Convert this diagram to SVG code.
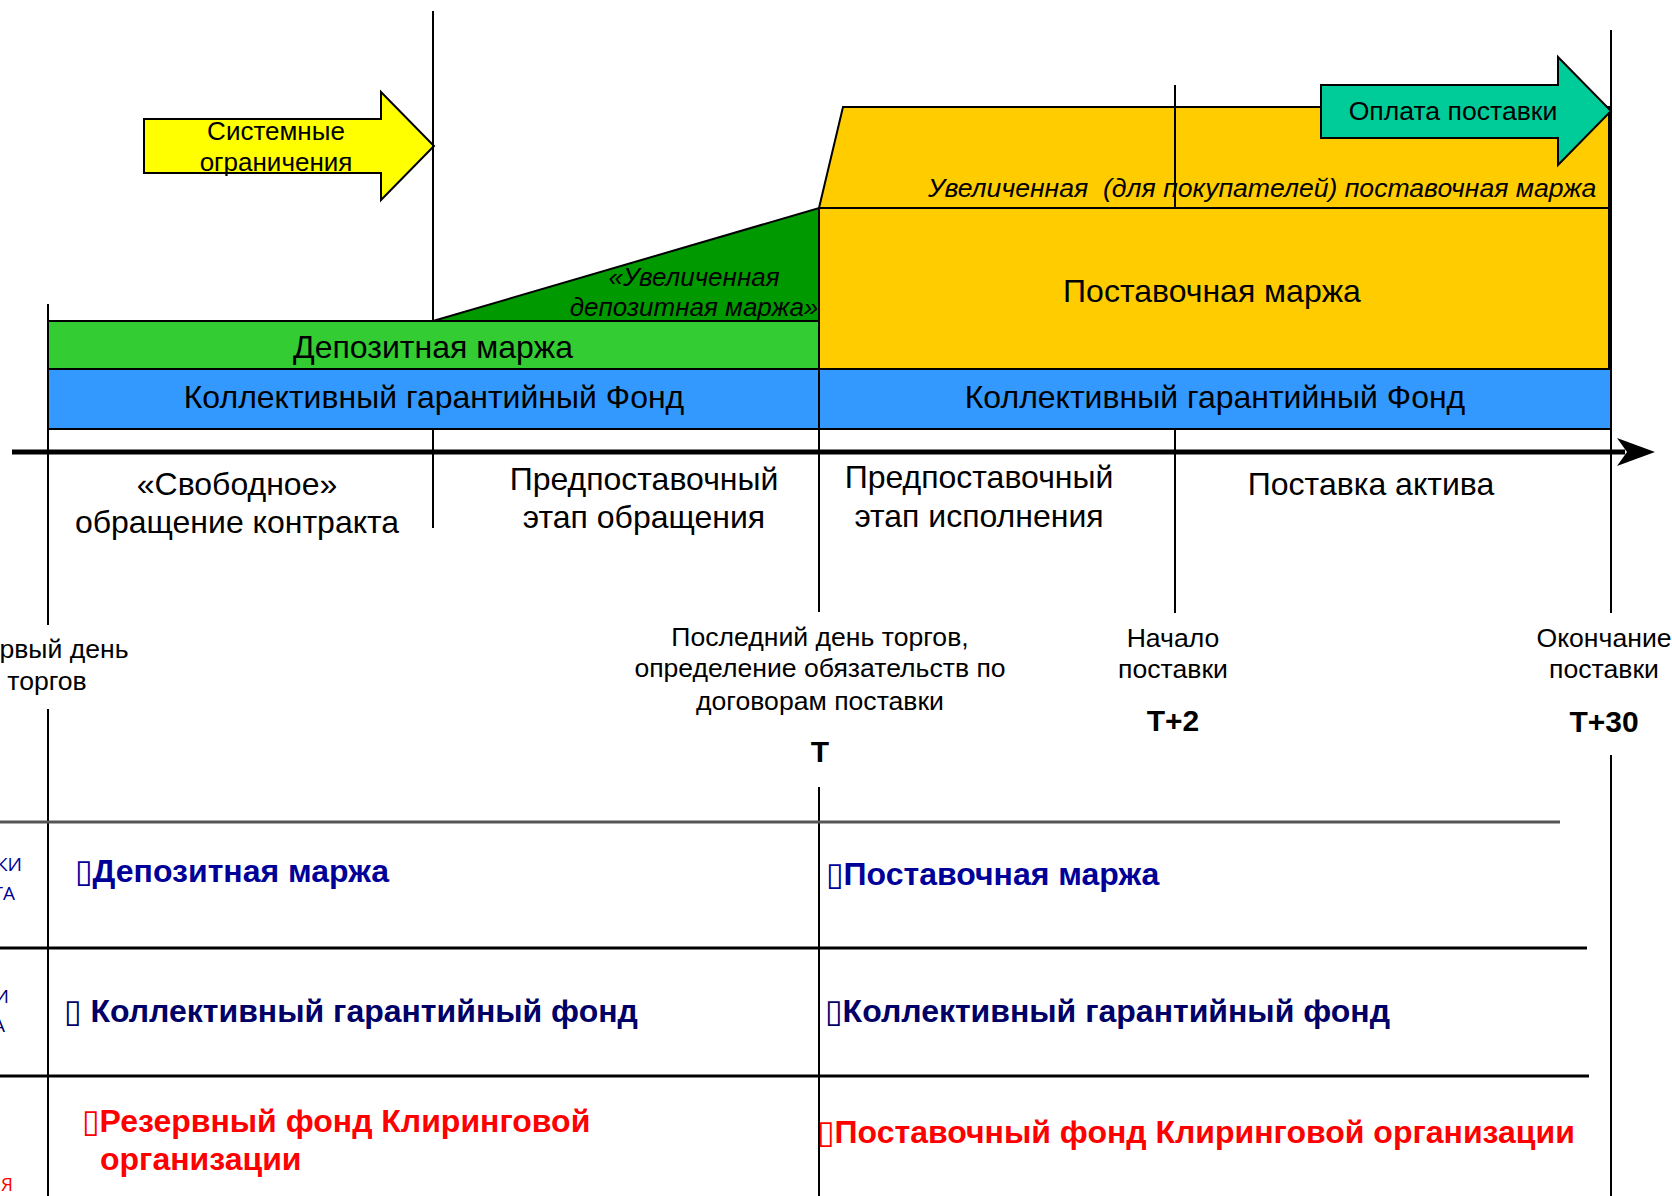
<svg xmlns="http://www.w3.org/2000/svg" width="1672" height="1196" viewBox="0 0 1672 1196">
<defs>
<style>
text{font-family:"Liberation Sans",Arial,sans-serif;fill:#000}
.big{font-size:32px;text-anchor:middle}
.ph{font-size:32px;text-anchor:middle}
.it{font-size:26.6px;font-style:italic}
.itm{font-size:26px;font-style:italic;text-anchor:middle}
.lbl{font-size:26px;text-anchor:middle}
.lbs{font-size:26.6px;text-anchor:middle}
.tk{font-size:30px;font-weight:bold;text-anchor:middle}
.tb{font-size:32px;font-weight:bold}
.blue{fill:#000099}
.navy{fill:#000066}
.red{fill:#FF0000}
.box{font-family:"DejaVu Sans",sans-serif;font-weight:normal}
.side{font-size:19px;font-family:"Open Sans",sans-serif;text-anchor:end}
.sh{stroke:#000;stroke-width:2}
.ln{stroke:#000;stroke-width:2;fill:none}
</style>
</defs>
<rect width="1672" height="1196" fill="#fff"/>

<g id="system-limits-arrow">
<polygon class="sh" fill="#FFFF00" points="144,119 381,119 381,92 434,146 381,200 381,173 144,173"/>
<text class="lbl" x="276" y="140">Системные</text>
<text class="lbl" x="276" y="171">ограничения</text>
</g>

<g id="increased-delivery-margin">
<polygon class="sh" fill="#FFCC00" points="819,208 843,107 1609,107 1609,208"/>
<text class="it" x="928" y="197" xml:space="preserve">Увеличенная  (для покупателей) поставочная маржа</text>
</g>

<g id="delivery-payment-arrow">
<polygon class="sh" fill="#00CC99" points="1321,85 1558,85 1558,57 1611,111 1558,165 1558,138 1321,138"/>
<text class="lbs" x="1453" y="120">Оплата поставки</text>
</g>

<g id="delivery-margin">
<rect class="sh" fill="#FFCC00" x="819" y="208" width="790" height="161"/>
<text class="big" x="1212" y="302">Поставочная маржа</text>
</g>

<g id="increased-deposit-margin">
<polygon class="sh" fill="#009900" points="433,321 819,208 819,321"/>
<text class="itm" x="694" y="286">«Увеличенная</text>
<text class="itm" x="694" y="316">депозитная маржа»</text>
</g>

<g id="deposit-margin">
<rect class="sh" fill="#33CC33" x="48" y="321" width="771" height="48"/>
<text class="big" x="433" y="358">Депозитная маржа</text>
</g>

<g id="guarantee-fund-left">
<rect class="sh" fill="#3399FF" x="48" y="369" width="771" height="60"/>
<text class="big" x="434" y="408">Коллективный гарантийный Фонд</text>
</g>

<g id="guarantee-fund-right">
<rect class="sh" fill="#3399FF" x="819" y="369" width="792" height="60"/>
<text class="big" x="1215" y="408">Коллективный гарантийный Фонд</text>
</g>

<g id="connectors">
<line class="ln" x1="433" y1="11" x2="433" y2="321"/>
<line class="ln" x1="433" y1="429" x2="433" y2="528"/>
<line class="ln" x1="48" y1="304" x2="48" y2="625"/>
<line class="ln" x1="48" y1="709" x2="48" y2="1196"/>
<line class="ln" x1="819" y1="429" x2="819" y2="612"/>
<line class="ln" x1="819" y1="787" x2="819" y2="1196"/>
<line class="ln" x1="1175" y1="85" x2="1175" y2="208"/>
<line class="ln" x1="1175" y1="429" x2="1175" y2="613"/>
<line class="ln" x1="1611" y1="30" x2="1611" y2="613" stroke-width="3"/>
<line class="ln" x1="1611" y1="755" x2="1611" y2="1196"/>
<line x1="12" y1="452" x2="1625" y2="452" stroke="#000" stroke-width="5"/>
<polygon fill="#000" points="1617,438 1655,452 1617,466 1627,452"/>
<line x1="0" y1="822" x2="1560" y2="822" stroke="#555" stroke-width="3"/>
<line x1="0" y1="948" x2="1587" y2="948" stroke="#000" stroke-width="3"/>
<line x1="0" y1="1076" x2="1589" y2="1076" stroke="#000" stroke-width="3"/>
</g>

<g id="phase-free">
<text class="ph" x="237" y="495">«Свободное»</text>
<text class="ph" x="237" y="533">обращение контракта</text>
</g>
<g id="phase-pre-delivery-trading">
<text class="ph" x="644" y="490">Предпоставочный</text>
<text class="ph" x="644" y="528">этап обращения</text>
</g>
<g id="phase-pre-delivery-execution">
<text class="ph" x="979" y="488">Предпоставочный</text>
<text class="ph" x="979" y="527">этап исполнения</text>
</g>
<g id="phase-delivery">
<text class="ph" x="1371" y="495">Поставка актива</text>
</g>

<g id="milestone-first-day">
<text class="lbs" x="47" y="658">Первый день</text>
<text class="lbs" x="47" y="690">торгов</text>
</g>
<g id="milestone-last-day">
<text class="lbs" x="820" y="646">Последний день торгов,</text>
<text class="lbs" x="820" y="677">определение обязательств по</text>
<text class="lbs" x="820" y="710">договорам поставки</text>
<text class="tk" x="820" y="762">T</text>
</g>
<g id="milestone-delivery-start">
<text class="lbs" x="1173" y="647">Начало</text>
<text class="lbs" x="1173" y="678">поставки</text>
<text class="tk" x="1173" y="731">T+2</text>
</g>
<g id="milestone-delivery-end">
<text class="lbs" x="1604" y="647">Окончание</text>
<text class="lbs" x="1604" y="678">поставки</text>
<text class="tk" x="1604" y="732">T+30</text>
</g>

<g id="row-margin">
<text class="side blue" x="22" y="871">КИ</text>
<text class="side blue" x="15" y="900">ТА</text>
<text class="tb blue" x="75" y="882"><tspan class="box">▯</tspan>Депозитная маржа</text>
<text class="tb blue" x="826" y="885"><tspan class="box">▯</tspan>Поставочная маржа</text>
</g>
<g id="row-fund">
<text class="side navy" x="9" y="1003">И</text>
<text class="side navy" x="5" y="1032">А</text>
<text class="tb navy" x="64" y="1022"><tspan class="box">▯</tspan> Коллективный гарантийный фонд</text>
<text class="tb navy" x="825" y="1022"><tspan class="box">▯</tspan>Коллективный гарантийный фонд</text>
</g>
<g id="row-clearing">
<text class="side red" x="13" y="1191">Я</text>
<text class="tb red" x="82" y="1132"><tspan class="box">▯</tspan>Резервный фонд Клиринговой</text>
<text class="tb red" x="100" y="1170">организации</text>
<text class="tb red" x="817" y="1143"><tspan class="box">▯</tspan>Поставочный фонд Клиринговой организации</text>
</g>
</svg>
